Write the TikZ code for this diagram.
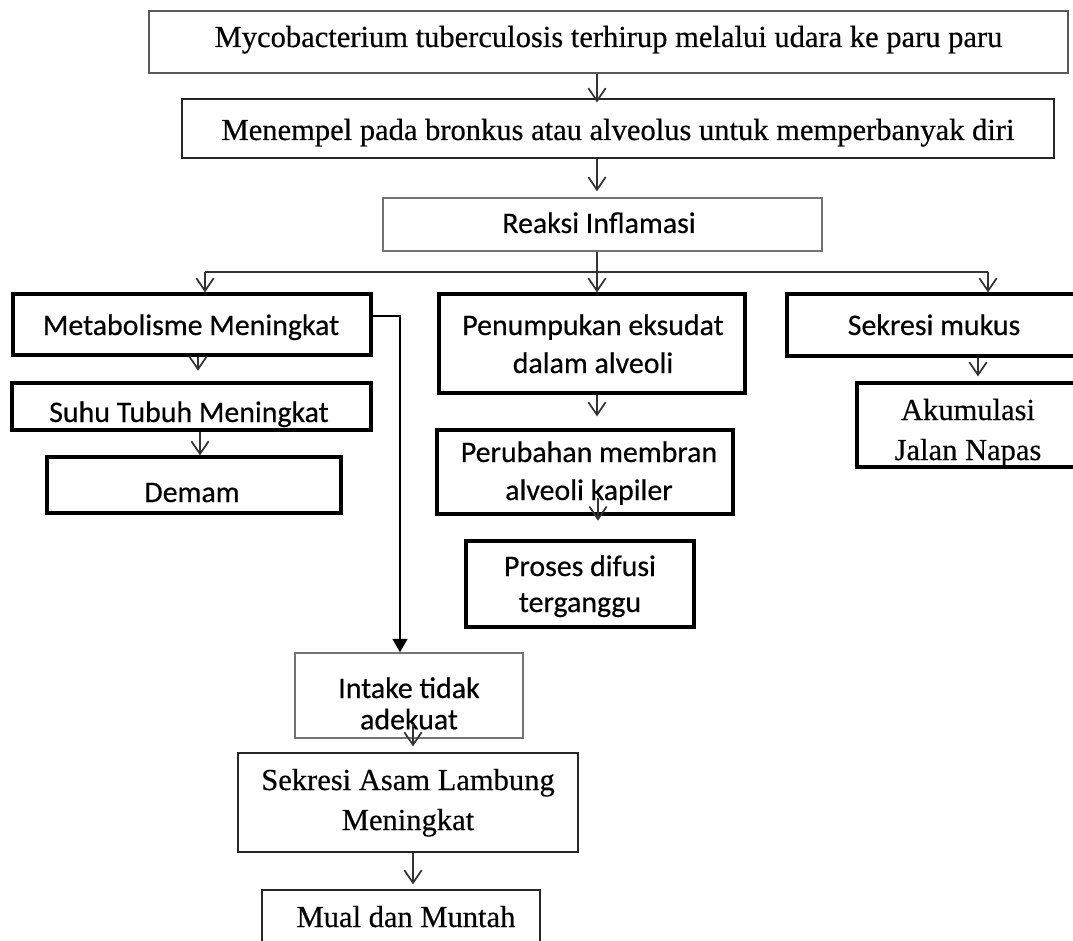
\documentclass[tikz,border=0pt]{standalone}
\usepackage{fontspec}
\usetikzlibrary{arrows.meta,calc}
\newfontfamily\tnrfont[FakeBold=0.4]{Liberation Serif}
\newfontfamily\calfont[FakeBold=0.4]{Carlito}
\newcommand\twol[3]{\vtop{\baselineskip=#3\lineskiplimit=-100pt\lineskip=0pt\halign{\hfil##\hfil\cr#1\cr#2\cr}}}
\newcommand\bx[6]{\node[#6, minimum width={(#4-#2)*0.75pt}, minimum height={(#5-#3)*0.75pt}] (#1) at ({(#2+#4)/2},{(#3+#5)/2}) {};}
\begin{document}
\begin{tikzpicture}[x=0.75pt,y=-0.75pt,
  bbase/.style={draw, rectangle, inner sep=0pt},
  thickbox/.style={bbase, draw=black, line width=2.4pt},
  graybox/.style={bbase, draw=black!55, line width=1.1pt},
  darkbox/.style={bbase, draw=black!65, line width=1.5pt},
  thinbox/.style={bbase, draw=black!85, line width=0.9pt},
  tnr/.style={inner sep=0pt, anchor=base, font=\tnrfont\fontsize{22.9pt}{28.5pt}\selectfont},
  cal/.style={inner sep=0pt, anchor=base, font=\calfont\fontsize{22.4pt}{28.5pt}\selectfont},
  ln/.style={draw=black!80, line width=1.3pt},
  arr/.style={ln, -{Straight Barb[length=9.5pt,width=13pt]}},
  blkarr/.style={draw=black, line width=1.5pt, -{Triangle[length=10pt,width=11pt]}}
]
\useasboundingbox (0,0) rectangle (1073,941);
\clip (0,0) rectangle (1073,941);
% boxes
\bx{b1}{149}{11}{1068}{73}{darkbox}
\bx{b2}{182}{99}{1054}{158}{thinbox}
\bx{b3}{383}{198}{822}{251}{graybox}
\bx{b4}{13}{294}{371}{355}{thickbox}
\bx{b5}{439}{294}{745}{393}{thickbox}
\bx{b6}{787}{294}{1081}{356}{thickbox}
\bx{b7}{12}{383}{371}{430}{thickbox}
\bx{b8}{47}{457}{341}{513}{thickbox}
\bx{b9}{437}{430}{733}{514}{thickbox}
\bx{b10}{466}{541}{694}{627}{thickbox}
\bx{b11}{857}{383}{1079}{467}{thickbox}
\bx{b12}{295}{653}{523}{738}{graybox}
\bx{b13}{238}{753}{578}{852}{thinbox}
\bx{b14}{262}{890}{540}{990}{thinbox}
% texts
\node[tnr] (t1) at (608.5,47) {Mycobacterium tuberculosis terhirup melalui udara ke paru paru};
\node[tnr] (t2) at (618,140) {Menempel pada bronkus atau alveolus untuk memperbanyak diri};
\node[cal] (t3) at (599,233) {Reaksi Inflamasi};
\node[cal] (t4) at (191,335) {Metabolisme Meningkat};
\node[cal] (t5) at (593,335) {\twol{Penumpukan eksudat}{dalam alveoli}{28.5pt}};
\node[cal] (t6) at (934,335) {Sekresi mukus};
\node[cal] (t7) at (189,422) {Suhu Tubuh Meningkat};
\node[cal] (t8) at (192,502) {Demam};
\node[cal] (t9) at (589,462) {\twol{Perubahan membran}{alveoli kapiler}{28.5pt}};
\node[cal] (t10) at (580,576) {\twol{Proses difusi}{terganggu}{27pt}};
\node[tnr] (t11) at (968,420) {\twol{Akumulasi}{Jalan Napas}{30pt}};
\node[cal] (t12) at (409,698) {\twol{Intake tidak}{adekuat}{23.5pt}};
\node[tnr] (t13) at (408,790) {\twol{Sekresi Asam Lambung}{Meningkat}{30pt}};
\node[tnr] (t14) at (406,927) {Mual dan Muntah};
% connector coordinates
\coordinate (ax) at (597,0);
\coordinate (jL) at (205,272);
\coordinate (jM) at (597,272);
\coordinate (jR) at (988,272);
\coordinate (m1) at (198,0);
\coordinate (m2) at (200,0);
\coordinate (p1) at (598,498);
\coordinate (s1) at (978,0);
\coordinate (e1) at (400,316);
\coordinate (i1) at (413,724);
% connectors
\draw[arr, shorten >=-3pt] (b1.south -| ax) -- (b2.north -| ax);
\draw[arr, shorten >=4.5pt] (b2.south -| ax) -- (b3.north -| ax);
\draw[ln] (b3.south -| jM) -- (jM);
\draw[ln] (jL) -- (jR);
\draw[arr] (jL) -- (b4.north -| jL);
\draw[arr] (jM) -- (b5.north -| jM);
\draw[arr] (jR) -- (b6.north -| jR);
\draw[arr, shorten >=8pt] (b4.south -| m1) -- (b7.north -| m1);
\draw[arr] (b7.south -| m2) -- (b8.north -| m2);
\draw[arr, shorten >=9pt] (b5.south -| ax) -- (b9.north -| ax);
\draw[arr, shorten >=14pt] (p1) -- (b10.north -| p1);
\draw[arr, shorten >=3.75pt] (b6.south -| s1) -- (b11.north -| s1);
\draw[blkarr] (b4.east |- e1) -- (e1) -- (b12.north -| e1);
\draw[arr, shorten >=4.5pt] (i1) -- (b13.north -| i1);
\draw[arr, shorten >=3.75pt] (b13.south -| i1) -- (b14.north -| i1);
\end{tikzpicture}
\end{document}
